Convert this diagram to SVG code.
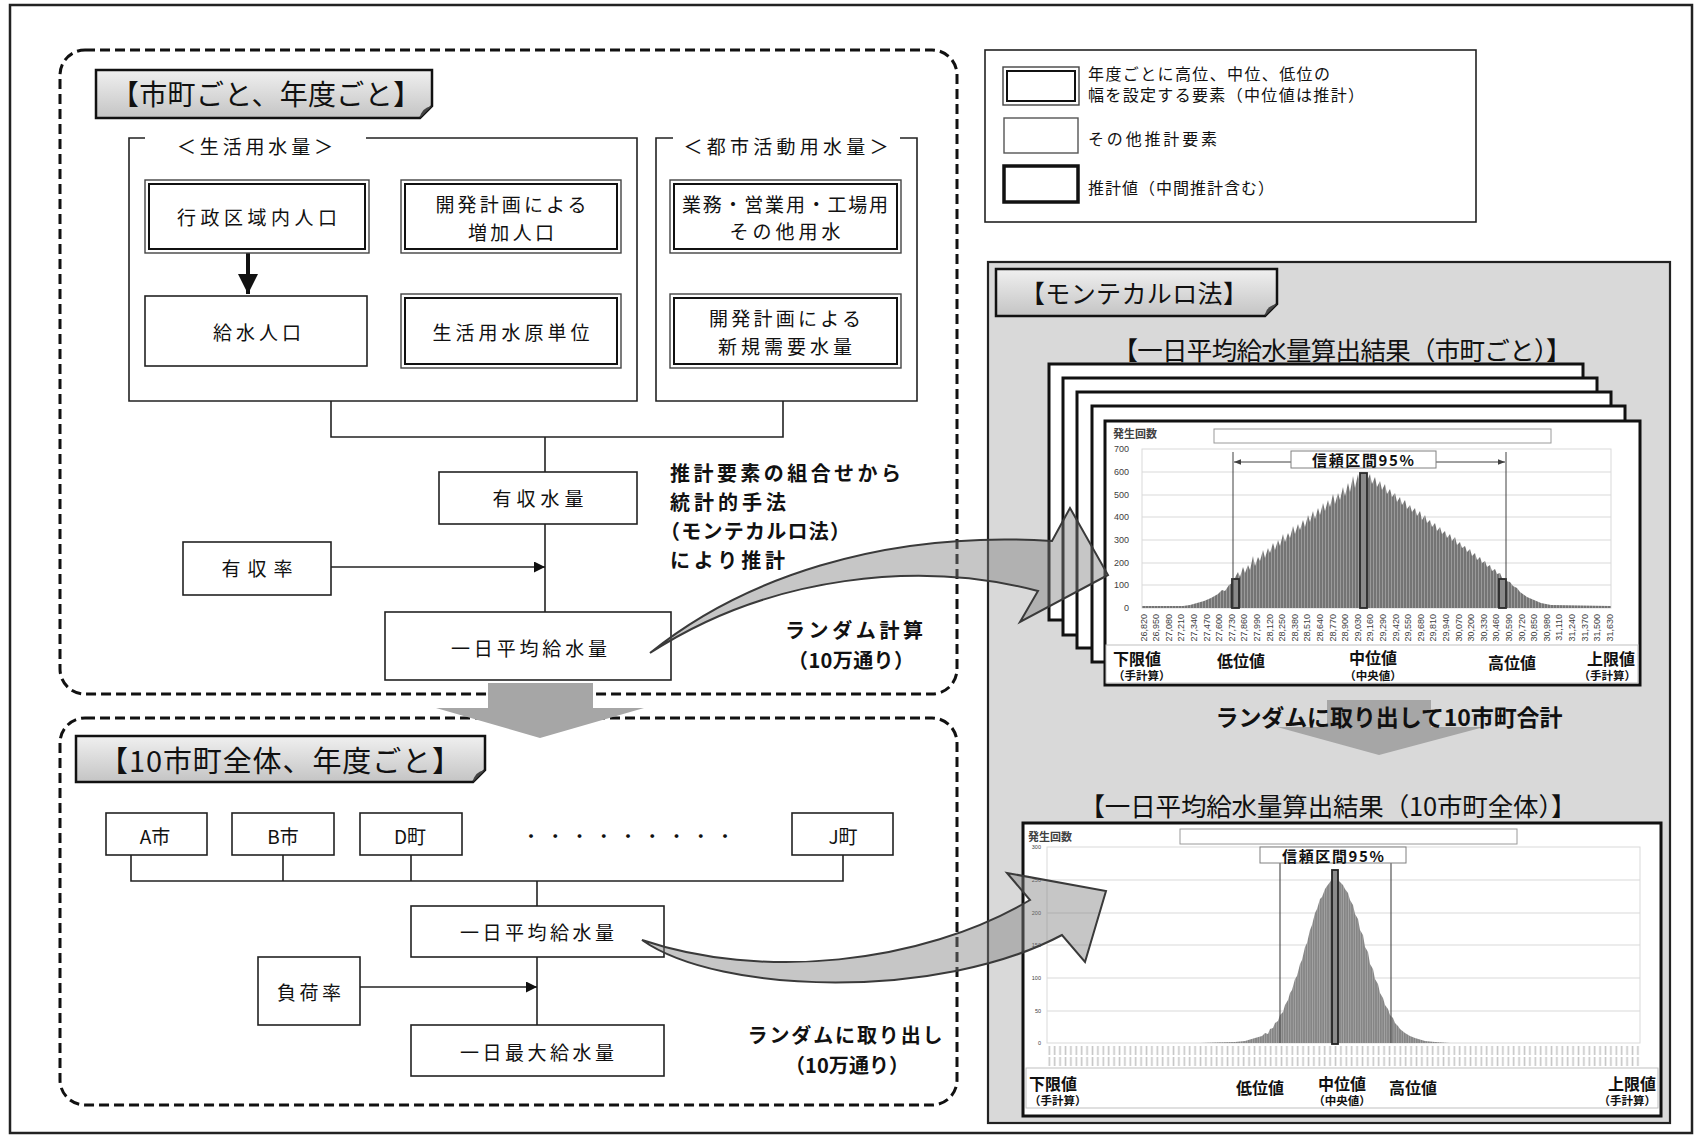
<svg xmlns="http://www.w3.org/2000/svg" width="1695" height="1135" viewBox="0 0 1695 1135">
<defs>
<style>
.jp{font-family:"Noto Sans CJK JP","Noto Sans",sans-serif;fill:#111}
.b{font-weight:700}
.box{fill:#fff;stroke:#222;stroke-width:1.6}
.dOut{fill:#fff;stroke:#444;stroke-width:1.4}
.dIn{fill:none;stroke:#111;stroke-width:2}
.dash{fill:none;stroke:#111;stroke-width:3;stroke-dasharray:10 5}
.ln{fill:none;stroke:#222;stroke-width:1.6}
.grid{stroke:#d9d9d9;stroke-width:1;fill:none}
.card{fill:#fff;stroke:#111;stroke-width:3}
.tab{fill:url(#tabg);stroke:#111;stroke-width:2.5}
.c{text-anchor:middle;dominant-baseline:central}
.s{dominant-baseline:central}
.e{text-anchor:end;dominant-baseline:central}
.ax{font-family:"Liberation Sans",Arial,sans-serif;font-size:9px;fill:#404040}
.n{font-size:19px}
.lbl{font-size:16px;font-weight:700}
.sub{font-size:11.5px;font-weight:700}
.bt{font-size:20px;font-weight:700}
.lg{font-size:16px}
</style>
<linearGradient id="tabg" x1="0" y1="0" x2="0" y2="1">
<stop offset="0" stop-color="#f0f0f0"/><stop offset="1" stop-color="#c4c4c4"/>
</linearGradient>
<pattern id="bars" width="3" height="4" patternUnits="userSpaceOnUse">
<rect width="3" height="4" fill="#747474"/><rect x="2" width="1" height="4" fill="#9a9a9a"/>
</pattern>
<pattern id="bars2" width="2.4" height="4" patternUnits="userSpaceOnUse">
<rect width="2.4" height="4" fill="#858585"/><rect x="1.6" width="0.8" height="4" fill="#a6a6a6"/>
</pattern>
<pattern id="tk" x="1047" y="1046" width="5.4" height="22" patternUnits="userSpaceOnUse">
<rect x="1.5" y="0" width="1.6" height="9" fill="#c6c6c6"/><rect x="1.5" y="11" width="1.6" height="9" fill="#c6c6c6"/>
</pattern>
<marker id="arr" markerUnits="userSpaceOnUse" markerWidth="11" markerHeight="11" viewBox="0 0 10 10" refX="10" refY="5" orient="auto">
<path d="M0,0 L10,5 L0,10 Z" fill="#111"/>
</marker>
<marker id="arrBig" markerUnits="userSpaceOnUse" markerWidth="20" markerHeight="20" viewBox="0 0 10 10" refX="10" refY="5" orient="auto">
<path d="M0,0 L10,5 L0,10 Z" fill="#111"/>
</marker>
<marker id="arrSm" markerUnits="userSpaceOnUse" markerWidth="7" markerHeight="7" viewBox="0 0 10 10" refX="10" refY="5" orient="auto">
<path d="M0,1 L10,5 L0,9 Z" fill="#404040"/>
</marker>
</defs>

<rect x="0" y="0" width="1695" height="1135" fill="#fff"/>
<rect x="10" y="5" width="1682" height="1128" fill="none" stroke="#222" stroke-width="2.5"/>

<!-- regions -->
<g id="region-city">
<rect class="dash" x="60" y="50" width="897" height="644" rx="25"/>
<path class="tab" d="M96,70 H432 V106 L420,118 H96 Z"/>
<path d="M432,106 L420,118 Q421,108 432,106 Z" fill="#444"/>
<text class="jp c" x="266" y="93" font-size="28" textLength="310">【市町ごと、年度ごと】</text>
</g>
<g id="region-all">
<rect class="dash" x="60" y="718" width="897" height="387" rx="25"/>
<path class="tab" d="M76,736 H485 V770 L473,782 H76 Z"/>
<path d="M485,770 L473,782 Q474,772 485,770 Z" fill="#444"/>
<text class="jp c" x="280" y="759" font-size="29" textLength="362">【10市町全体、年度ごと】</text>
</g>

<!-- group brackets -->
<g id="group-living">
<path class="ln" d="M145,138 H129 V401 H637 V138 H366"/>
<text class="jp c n" x="255" y="145" textLength="156">＜生活用水量＞</text>
</g>
<g id="group-urban">
<path class="ln" d="M673,138 H656 V401 H917 V138 H900"/>
<text class="jp c n" x="786" y="145" textLength="205">＜都市活動用水量＞</text>
</g>

<!-- connectors -->
<g id="connectors">
<line x1="248" y1="253" x2="248" y2="294" stroke="#111" stroke-width="4" marker-end="url(#arrBig)"/>
<path class="ln" d="M331,401 V437 H783 V401"/>
<path class="ln" d="M545,437 V472"/>
<path class="ln" d="M545,524 V612"/>
<line class="ln" x1="331" y1="567" x2="545" y2="567" marker-end="url(#arr)"/>
<path class="ln" d="M131,855 V881 H843 V855"/>
<path class="ln" d="M283,855 V881 M411,855 V881"/>
<path class="ln" d="M537,881 V906"/>
<path class="ln" d="M537,957 V1025"/>
<line class="ln" x1="360" y1="987" x2="537" y2="987" marker-end="url(#arr)"/>
</g>

<!-- nodes top -->
<g id="node-gyosei">
<rect class="dOut" x="145" y="180" width="224" height="73"/>
<rect class="dIn" x="149" y="184" width="216" height="65"/>
<text class="jp c n" x="257" y="216" textLength="160">行政区域内人口</text>
</g>
<g id="node-kaihatsu-jinko">
<rect class="dOut" x="401" y="180" width="220" height="73"/>
<rect class="dIn" x="405" y="184" width="212" height="65"/>
<text class="jp c n" x="511" y="203" textLength="151">開発計画による</text>
<text class="jp c n" x="511" y="231" textLength="86">増加人口</text>
</g>
<g id="node-kyusui-jinko">
<rect class="box" x="145" y="296" width="222" height="70"/>
<text class="jp c n" x="257" y="331" textLength="88">給水人口</text>
</g>
<g id="node-gentani">
<rect class="dOut" x="401" y="294" width="220" height="74"/>
<rect class="dIn" x="405" y="298" width="212" height="66"/>
<text class="jp c n" x="511" y="331" textLength="157">生活用水原単位</text>
</g>
<g id="node-gyomu">
<rect class="dOut" x="670" y="180" width="231" height="73"/>
<rect class="dIn" x="674" y="184" width="223" height="65"/>
<text class="jp c n" x="785" y="203" textLength="206">業務・営業用・工場用</text>
<text class="jp c n" x="785" y="230" textLength="111">その他用水</text>
</g>
<g id="node-shinki">
<rect class="dOut" x="670" y="294" width="231" height="74"/>
<rect class="dIn" x="674" y="298" width="223" height="66"/>
<text class="jp c n" x="785" y="317" textLength="152">開発計画による</text>
<text class="jp c n" x="785" y="345" textLength="134">新規需要水量</text>
</g>
<g id="node-yushu-suiryo">
<rect class="box" x="439" y="472" width="198" height="52"/>
<text class="jp c n" x="538" y="497" textLength="91">有収水量</text>
</g>
<g id="node-yushu-ritsu">
<rect class="box" x="183" y="542" width="148" height="53"/>
<text class="jp c n" x="257" y="567" textLength="71">有収率</text>
</g>
<g id="node-heikin-city">
<rect class="box" x="385" y="612" width="286" height="68"/>
<text class="jp c n" x="529" y="647" textLength="156">一日平均給水量</text>
</g>

<!-- notes top -->
<g id="note-method">
<text class="jp s bt" x="670" y="472" textLength="231">推計要素の組合せから</text>
<text class="jp s bt" x="670" y="501" textLength="116">統計的手法</text>
<text class="jp s bt" x="660" y="530" textLength="190">（モンテカルロ法）</text>
<text class="jp s bt" x="670" y="559" textLength="115">により推計</text>
</g>
<g id="note-random">
<text class="jp c bt" x="854" y="629" textLength="138">ランダム計算</text>
<text class="jp c bt" x="851" y="659" textLength="126">（10万通り）</text>
</g>

<!-- nodes bottom -->
<g id="node-a"><rect class="box" x="106" y="813" width="101" height="42"/><text class="jp c" font-size="19" x="155" y="835">A市</text></g>
<g id="node-b"><rect class="box" x="232" y="813" width="102" height="42"/><text class="jp c" font-size="19" x="283" y="835">B市</text></g>
<g id="node-d"><rect class="box" x="360" y="813" width="102" height="42"/><text class="jp c" font-size="19" x="410" y="835">D町</text></g>
<g id="node-dots"><text class="jp c" font-size="18" x="628" y="835" textLength="212">・・・・・・・・・</text></g>
<g id="node-j"><rect class="box" x="792" y="813" width="101" height="42"/><text class="jp c" font-size="19" x="843" y="835">J町</text></g>
<g id="node-heikin-all">
<rect class="box" x="411" y="906" width="253" height="51"/>
<text class="jp c n" x="537" y="931" textLength="154">一日平均給水量</text>
</g>
<g id="node-fuka">
<rect class="box" x="258" y="957" width="102" height="68"/>
<text class="jp c n" x="309" y="991" textLength="64">負荷率</text>
</g>
<g id="node-saidai">
<rect class="box" x="411" y="1025" width="253" height="51"/>
<text class="jp c n" x="537" y="1051" textLength="154">一日最大給水量</text>
</g>
<g id="note-random2">
<text class="jp c bt" x="845" y="1034" textLength="195">ランダムに取り出し</text>
<text class="jp c bt" x="847" y="1064" textLength="124">（10万通り）</text>
</g>

<!-- legend -->
<g id="legend">
<rect x="985" y="50" width="491" height="172" fill="#fff" stroke="#222" stroke-width="1.6"/>
<rect x="1003" y="67" width="76" height="38" fill="#fff" stroke="#444" stroke-width="1.4"/>
<rect x="1007" y="71" width="68" height="30" fill="none" stroke="#111" stroke-width="2"/>
<rect x="1004" y="118" width="74" height="35" fill="#fff" stroke="#555" stroke-width="1.4"/>
<rect x="1004" y="166" width="74" height="36" fill="#fff" stroke="#111" stroke-width="3.5"/>
<text class="jp s lg" x="1088" y="73" textLength="242">年度ごとに高位、中位、低位の</text>
<text class="jp s lg" x="1088" y="94" textLength="276">幅を設定する要素（中位値は推計）</text>
<text class="jp s lg" x="1088" y="138" textLength="129">その他推計要素</text>
<text class="jp s lg" x="1088" y="187" textLength="186">推計値（中間推計含む）</text>
</g>

<!-- Monte Carlo panel -->
<g id="panel-montecarlo">
<rect x="988" y="262" width="682" height="861" fill="#d9d9d9" stroke="#222" stroke-width="2.2"/>
<path class="tab" d="M996,269 H1277 V304 L1265,316 H996 Z"/>
<path d="M1277,304 L1265,316 Q1266,306 1277,304 Z" fill="#444"/>
<text class="jp c" x="1134" y="292" font-size="25" textLength="228">【モンテカルロ法】</text>
<text class="jp c" x="1342" y="348" font-size="25.5" textLength="459">【一日平均給水量算出結果（市町ごと）】</text>
</g>

<!-- stacked cards + chart per city -->
<g id="chart-city">
<rect class="card" x="1049" y="364" width="534" height="256"/>
<rect class="card" x="1063" y="378" width="534" height="257"/>
<rect class="card" x="1077" y="392" width="534" height="256"/>
<rect class="card" x="1092" y="406" width="533" height="256"/>
<rect class="card" x="1105" y="421" width="535" height="264"/>
<text class="jp s b" x="1113" y="433" font-size="11" style="fill:#404040">発生回数</text>
<rect x="1214" y="429" width="337" height="14" fill="#fff" stroke="#9a9a9a" stroke-width="1"/>
<rect class="grid" x="1142" y="449" width="469" height="159"/>
<path class="grid" d="M1142,472 H1611 M1142,495 H1611 M1142,517 H1611 M1142,540 H1611 M1142,563 H1611 M1142,585 H1611"/>
<g class="ax" text-anchor="end">
<text x="1129" y="452">700</text><text x="1129" y="475">600</text><text x="1129" y="498">500</text><text x="1129" y="520">400</text>
<text x="1129" y="543">300</text><text x="1129" y="566">200</text><text x="1129" y="588">100</text><text x="1129" y="611">0</text>
</g>
<path fill="url(#bars)" d="M1142,608 L1142,606 L1183,606 L1190,605 L1197,603 L1204,601 L1211,598 L1218,594 L1222,590 L1225,591 L1229,585 L1232,583
L1238,572 L1240,577 L1243,567 L1245,573 L1248,565 L1250,570 L1253,556 L1255,566 L1258,557 L1260,561 L1263,550 L1265,558 L1268,548 L1270,553 L1273,543 L1275,550 L1278,540 L1280,546 L1283,534 L1285,542 L1288,533 L1290,538 L1293,526 L1295,534 L1298,524 L1300,530 L1303,520 L1305,527 L1308,515 L1310,522 L1313,511 L1315,519 L1318,508 L1320,515 L1323,503 L1325,511 L1328,500 L1330,507 L1333,494 L1335,504 L1338,493 L1340,500 L1343,487 L1345,496 L1348,483 L1350,492 L1353,476 L1355,488 L1358,474 L1360,485 L1363,481 L1367,481
L1370,474 L1372,484 L1375,477 L1377,487 L1380,481 L1382,490 L1385,484 L1387,494 L1390,489 L1392,497 L1395,493 L1397,502 L1400,497 L1402,505 L1405,500 L1407,509 L1410,505 L1412,512 L1415,508 L1417,516 L1420,511 L1422,520 L1425,515 L1427,523 L1430,520 L1432,527 L1435,523 L1437,531 L1440,527 L1442,534 L1445,531 L1447,538 L1450,534 L1452,541 L1455,537 L1457,545 L1460,542 L1462,548 L1465,546 L1467,552 L1470,549 L1472,556 L1475,553 L1477,560 L1480,557 L1482,563 L1485,561 L1487,567 L1490,565 L1492,571 L1495,569 L1497,574 L1500,573 L1502,578 L1506,581
L1510,582 L1513,586 L1517,588 L1520,592 L1527,597 L1534,600 L1541,603 L1551,605 L1611,606 L1611,608 Z"/>
<rect x="1232" y="579" width="7" height="29" fill="#8a8a8a" stroke="#2a2a2a" stroke-width="1.8"/>
<rect x="1360" y="473" width="7" height="135" fill="#8a8a8a" stroke="#2a2a2a" stroke-width="1.8"/>
<rect x="1499" y="579" width="7" height="29" fill="#8a8a8a" stroke="#2a2a2a" stroke-width="1.8"/>
<path d="M1233,452 V608 M1506,452 V608" stroke="#404040" stroke-width="1" fill="none"/>
<line x1="1291" y1="462" x2="1234" y2="462" stroke="#404040" stroke-width="1" marker-end="url(#arrSm)"/>
<line x1="1436" y1="462" x2="1505" y2="462" stroke="#404040" stroke-width="1" marker-end="url(#arrSm)"/>
<rect x="1291" y="451" width="145" height="17" fill="#fff" stroke="#808080" stroke-width="1"/>
<text class="jp c b" x="1363" y="459.5" font-size="15" textLength="102">信頼区間95%</text>
<g class="ax" text-anchor="end">
<text transform="translate(1146.6,614) rotate(-90)">26,820</text>
<text transform="translate(1159.2,614) rotate(-90)">26,950</text>
<text transform="translate(1171.8,614) rotate(-90)">27,080</text>
<text transform="translate(1184.4,614) rotate(-90)">27,210</text>
<text transform="translate(1197,614) rotate(-90)">27,340</text>
<text transform="translate(1209.6,614) rotate(-90)">27,470</text>
<text transform="translate(1222.2,614) rotate(-90)">27,600</text>
<text transform="translate(1234.8,614) rotate(-90)">27,730</text>
<text transform="translate(1247.4,614) rotate(-90)">27,860</text>
<text transform="translate(1260,614) rotate(-90)">27,990</text>
<text transform="translate(1272.6,614) rotate(-90)">28,120</text>
<text transform="translate(1285.2,614) rotate(-90)">28,250</text>
<text transform="translate(1297.8,614) rotate(-90)">28,380</text>
<text transform="translate(1310.4,614) rotate(-90)">28,510</text>
<text transform="translate(1323,614) rotate(-90)">28,640</text>
<text transform="translate(1335.6,614) rotate(-90)">28,770</text>
<text transform="translate(1348.2,614) rotate(-90)">28,900</text>
<text transform="translate(1360.8,614) rotate(-90)">29,030</text>
<text transform="translate(1373.4,614) rotate(-90)">29,160</text>
<text transform="translate(1386,614) rotate(-90)">29,290</text>
<text transform="translate(1398.6,614) rotate(-90)">29,420</text>
<text transform="translate(1411.2,614) rotate(-90)">29,550</text>
<text transform="translate(1423.8,614) rotate(-90)">29,680</text>
<text transform="translate(1436.4,614) rotate(-90)">29,810</text>
<text transform="translate(1449,614) rotate(-90)">29,940</text>
<text transform="translate(1461.6,614) rotate(-90)">30,070</text>
<text transform="translate(1474.2,614) rotate(-90)">30,200</text>
<text transform="translate(1486.8,614) rotate(-90)">30,330</text>
<text transform="translate(1499.4,614) rotate(-90)">30,460</text>
<text transform="translate(1512,614) rotate(-90)">30,590</text>
<text transform="translate(1524.6,614) rotate(-90)">30,720</text>
<text transform="translate(1537.2,614) rotate(-90)">30,850</text>
<text transform="translate(1549.8,614) rotate(-90)">30,980</text>
<text transform="translate(1562.4,614) rotate(-90)">31,110</text>
<text transform="translate(1575,614) rotate(-90)">31,240</text>
<text transform="translate(1587.6,614) rotate(-90)">31,370</text>
<text transform="translate(1600.2,614) rotate(-90)">31,500</text>
<text transform="translate(1612.8,614) rotate(-90)">31,630</text>
</g>
<rect x="1106" y="645" width="532" height="38" fill="#fff" stroke="#bfbfbf" stroke-width="1"/>
<text class="jp s lbl" x="1113" y="658">下限値</text>
<text class="jp s sub" x="1113" y="675">（手計算）</text>
<text class="jp c lbl" x="1241" y="660">低位値</text>
<text class="jp c lbl" x="1373" y="657">中位値</text>
<text class="jp c sub" x="1373" y="675">（中央値）</text>
<text class="jp c lbl" x="1512" y="662">高位値</text>
<text class="jp e lbl" x="1635" y="658">上限値</text>
<text class="jp e sub" x="1636" y="675">（手計算）</text>
</g>

<!-- arrow to total -->
<g id="arrow-sum">
<polygon points="1327,700 1431,700 1431,727 1484,727 1379,755 1277,727 1327,727" fill="#a6a6a6"/>
<text class="jp c b" x="1389" y="716" font-size="23" textLength="347">ランダムに取り出して10市町合計</text>
</g>

<!-- chart total -->
<g id="chart-all">
<text class="jp c" x="1328" y="804" font-size="25.5" textLength="497">【一日平均給水量算出結果（10市町全体）】</text>
<rect class="card" x="1023" y="823" width="638" height="293"/>
<text class="jp s b" x="1028" y="836" font-size="11" style="fill:#404040">発生回数</text>
<rect x="1180" y="829" width="337" height="15" fill="#fff" stroke="#9a9a9a" stroke-width="1"/>
<rect class="grid" x="1047" y="847" width="593" height="196"/>
<path class="grid" d="M1047,880 H1640 M1047,913 H1640 M1047,945 H1640 M1047,978 H1640 M1047,1011 H1640"/>
<g class="ax" text-anchor="end" style="font-size:5.5px">
<text x="1041" y="849">300</text><text x="1041" y="882">250</text><text x="1041" y="915">200</text><text x="1041" y="947">150</text>
<text x="1041" y="980">100</text><text x="1041" y="1013">50</text><text x="1041" y="1045">0</text>
</g>
<path fill="url(#bars2)" d="M1047,1043 L1200,1043 L1215,1042.5 L1235,1042 L1245,1041 L1255,1038 L1262,1036 L1265,1033 L1268,1034 L1270,1029 L1273,1028 L1275,1023 L1278,1021 L1280,1015 L1283,1012 L1285,1005 L1288,1000 L1290,993 L1292,990 L1295,979 L1297,976 L1300,964 L1302,960 L1305,947 L1307,943 L1310,930 L1312,925 L1315,913 L1317,909 L1320,899 L1322,897 L1325,889 L1327,886 L1330,882 L1332,879 L1338,880 L1340,882 L1343,885 L1345,889 L1348,893 L1350,900 L1353,905 L1355,914 L1358,919 L1360,930 L1363,935 L1365,947 L1368,952 L1370,964 L1373,969 L1375,979 L1378,984 L1380,993 L1383,998 L1385,1005 L1388,1009 L1390,1015 L1393,1018 L1395,1023 L1398,1026 L1400,1029 L1405,1033 L1410,1036 L1415,1038 L1425,1041 L1435,1042 L1450,1043 Z"/>
<rect x="1332" y="870" width="6" height="174" fill="#8a8a8a" stroke="#222" stroke-width="1.8"/>
<path d="M1280,863 V1043 M1391,863 V1043" stroke="#555" stroke-width="1.2" fill="none"/>
<rect x="1260" y="847" width="146" height="16" fill="#fff" stroke="#808080" stroke-width="1"/>
<text class="jp c b" x="1333" y="855" font-size="15" textLength="102">信頼区間95%</text>
<rect x="1047" y="1046" width="594" height="21" fill="url(#tk)"/>
<rect x="1026" y="1068" width="632" height="40" fill="#fff" stroke="#bfbfbf" stroke-width="1"/>
<text class="jp s lbl" x="1029" y="1083">下限値</text>
<text class="jp s sub" x="1029" y="1100">（手計算）</text>
<text class="jp c lbl" x="1260" y="1087">低位値</text>
<text class="jp c lbl" x="1342" y="1083">中位値</text>
<text class="jp c sub" x="1342" y="1100">（中央値）</text>
<text class="jp c lbl" x="1413" y="1087">高位値</text>
<text class="jp e lbl" x="1656" y="1083">上限値</text>
<text class="jp e sub" x="1656" y="1100">（手計算）</text>
</g>

<!-- big arrows -->
<g id="big-arrows">
<polygon points="488,683 593,683 593,708 644,708 540,738 436,708 488,708" fill="#a6a6a6"/>
<path d="M650,653 C740,580 880,530 1052,541 L1070,508 L1108,575 L1020,622 L1038,591 C920,560 770,575 650,653 Z" fill="#808080" fill-opacity="0.45" stroke="#3a3a3a" stroke-width="2" stroke-linejoin="miter"/>
<path d="M642,940 C720,995 940,1000 1062,935 L1085,962 L1106,891 L1007,873 L1030,900 C920,965 760,980 642,940 Z" fill="#808080" fill-opacity="0.45" stroke="#3a3a3a" stroke-width="2"/>
</g>
</svg>
